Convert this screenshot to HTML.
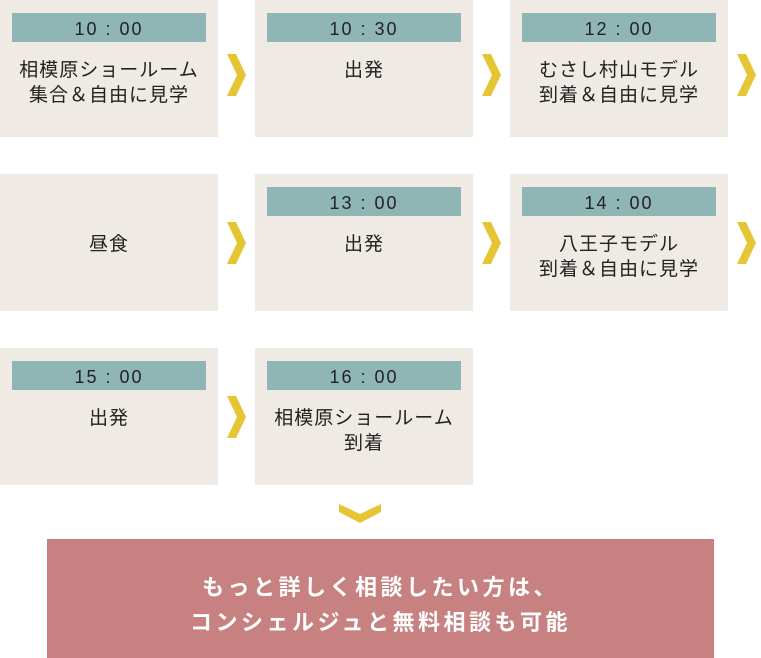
<!DOCTYPE html>
<html><head><meta charset="utf-8"><style>
body{margin:0;width:761px;height:658px;background:#fff;position:relative;overflow:hidden;font-family:"Liberation Sans","Noto Sans CJK JP",sans-serif;}
.b{position:absolute;width:218px;height:137px;background:#efebe4;color:#222;}
.t{position:absolute;left:12px;top:13px;width:194px;height:29px;background:#8fb5b4;text-align:center;line-height:32px;font-size:18px;letter-spacing:2px;color:#222;}
.x{position:absolute;left:0;width:218px;text-align:center;font-size:19px;line-height:25px;letter-spacing:1px;}
.p{position:absolute;left:47px;top:539px;width:667px;height:119px;background:#c78181;color:#fff;font-weight:bold;font-size:22px;line-height:35px;letter-spacing:3.5px;text-align:center;padding-top:31px;box-sizing:border-box;}
svg{position:absolute;left:0;top:0}
</style></head><body>
<div class="b" style="left:0;top:0"><div class="t">10 : 00</div><div class="x" style="top:58px">相模原ショールーム<br>集合＆自由に見学</div></div>
<div class="b" style="left:255px;top:0"><div class="t">10 : 30</div><div class="x" style="top:58px">出発</div></div>
<div class="b" style="left:510px;top:0"><div class="t">12 : 00</div><div class="x" style="top:58px">むさし村山モデル<br>到着＆自由に見学</div></div>
<div class="b" style="left:0;top:174px"><div class="x" style="top:58px">昼食</div></div>
<div class="b" style="left:255px;top:174px"><div class="t">13 : 00</div><div class="x" style="top:58px">出発</div></div>
<div class="b" style="left:510px;top:174px"><div class="t">14 : 00</div><div class="x" style="top:58px">八王子モデル<br>到着＆自由に見学</div></div>
<div class="b" style="left:0;top:348px"><div class="t">15 : 00</div><div class="x" style="top:58px">出発</div></div>
<div class="b" style="left:255px;top:348px"><div class="t">16 : 00</div><div class="x" style="top:58px">相模原ショールーム<br>到着</div></div>
<svg width="761" height="658">
<defs><polygon id="c" points="0,0 9,0 19,21 9,42 0,42 10,21" fill="#e6c534"/></defs>
<use href="#c" x="227" y="54"/><use href="#c" x="482" y="54"/><use href="#c" x="737" y="54"/>
<use href="#c" x="227" y="222"/><use href="#c" x="482" y="222"/><use href="#c" x="737" y="222"/>
<use href="#c" x="227" y="396"/>
<polygon points="339,504 360,514 381,504 381,512 360,523 339,512" fill="#e6c534"/>
</svg>
<div class="p">もっと詳しく相談したい方は、<br>コンシェルジュと無料相談も可能</div>
</body></html>
